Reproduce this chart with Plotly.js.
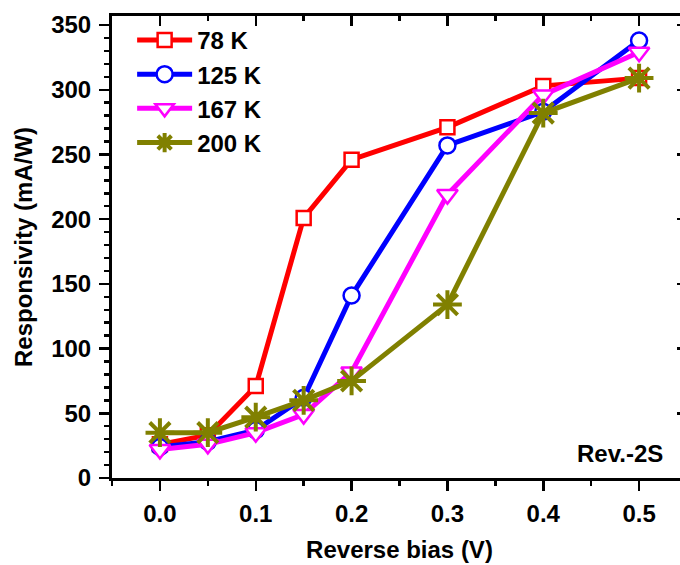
<!DOCTYPE html>
<html>
<head>
<meta charset="utf-8">
<script src="https://cdn.plot.ly/plotly-3.0.1.min.js"></script>
<style>
html,body{margin:0;padding:0;overflow:hidden;background:#fff;}
#chart{width:700px;height:565px;}
</style>
</head>
<body>
<div id="chart"></div>
<script>
const bias = [0, 0.05, 0.1, 0.15, 0.2, 0.3, 0.4, 0.5];
const r78  = [26, 33, 71, 201, 246, 271, 303, 309];
const r125 = [24, 28, 37, 62, 141, 257, 283, 338];
const r167 = [22, 26, 35, 49, 82, 219, 296, 329];
const r200 = [35, 35, 47, 60, 75, 134, 282, 309];
const names = ['78 K', '125 K', '167 K', '200 K'];
const xTickVals = [0, 0.1, 0.2, 0.3, 0.4, 0.5];
const xTickText = ['0.0', '0.1', '0.2', '0.3', '0.4', '0.5'];
const yTickVals = [0, 50, 100, 150, 200, 250, 300, 350];

const F = 'Liberation Sans, Arial, sans-serif';
function tr(y, name, color, symbol, size, fill, lw) {
  return {
    x: bias, y: y, name: name, type: 'scatter', mode: 'lines+markers',
    line: {color: color, width: 5},
    marker: {symbol: symbol, size: size, color: fill, line: {color: color, width: lw}},
    cliponaxis: false
  };
}
const data = [
  tr(r78, names[0], '#ff0000', 'square', 14, '#ffffff', 2.5),
  tr(r125, names[1], '#0000ff', 'circle', 16, '#ffffff', 2.5),
  tr(r167, names[2], '#ff00ff', 'triangle-down', 18, '#ffffff', 2.5),
  tr(r200, names[3], '#808000', 'asterisk-open', 24, '#808000', 4),
  {x: [], y: [], xaxis: 'x2', yaxis: 'y2', showlegend: false, type: 'scatter'}
];
const xr = [-0.05, 0.55], yr = [0, 357];
const tf = {family: F, size: 24, weight: 'bold', color: '#000'};
const layout = {
  width: 700, height: 565,
  margin: {l: 112, r: 13, t: 16, b: 87},
  paper_bgcolor: '#fff', plot_bgcolor: '#fff',
  font: tf,
  showlegend: true,
  legend: {x: 0.035, y: 0.996, xanchor: 'left', yanchor: 'top',
    bgcolor: 'rgba(0,0,0,0)', font: {family: F, size: 24, weight: 'bold', color: '#000'},
    tracegroupgap: 0, itemwidth: 55},
  xaxis: {range: xr, tickvals: xTickVals, ticktext: xTickText, ticks: 'outside', ticklen: 10, tickwidth: 2.5,
    tickcolor: '#000', showline: true, linewidth: 3, linecolor: '#000', showgrid: false, zeroline: false,
    ticklabelstandoff: 2,
    minor: {dtick: 0.05, ticks: 'outside', ticklen: 5, tickwidth: 2.5, tickcolor: '#000', showgrid: false},
    tickfont: tf,
    title: {text: 'Reverse bias (V)', font: tf, standoff: 16}},
  yaxis: {range: yr, tickvals: yTickVals, ticks: 'outside', ticklen: 10, tickwidth: 2.5,
    tickcolor: '#000', showline: true, linewidth: 3, linecolor: '#000', showgrid: false, zeroline: false,
    ticklabelstandoff: 3,
    minor: {dtick: 10, ticks: 'outside', ticklen: 5, tickwidth: 2.5, tickcolor: '#000', showgrid: false},
    tickfont: tf,
    title: {text: 'Responsivity (mA/W)', font: tf, standoff: 12}},
  xaxis2: {range: xr, overlaying: 'x', side: 'top', anchor: 'y2', tickvals: xTickVals, ticks: 'inside', ticklen: 10,
    tickwidth: 2.5, tickcolor: '#000', showline: true, linewidth: 3, linecolor: '#000', showgrid: false,
    zeroline: false, showticklabels: false,
    minor: {dtick: 0.05, ticks: 'inside', ticklen: 5, tickwidth: 2.5, tickcolor: '#000', showgrid: false}},
  yaxis2: {range: yr, overlaying: 'y', side: 'right', anchor: 'x2', tickvals: yTickVals, ticks: 'inside', ticklen: 10,
    tickwidth: 2.5, tickcolor: '#000', showline: true, linewidth: 3, linecolor: '#000', showgrid: false,
    zeroline: false, showticklabels: false,
    minor: {dtick: 10, ticks: 'inside', ticklen: 5, tickwidth: 2.5, tickcolor: '#000', showgrid: false}},
  annotations: [{text: 'Rev.-2S', xref: 'paper', yref: 'paper', x: 0.962, y: 0.02, xanchor: 'right', yanchor: 'bottom',
    showarrow: false, font: tf}]
};
Plotly.newPlot('chart', data, layout, {displayModeBar: false, staticPlot: true});
</script>
</body>
</html>
